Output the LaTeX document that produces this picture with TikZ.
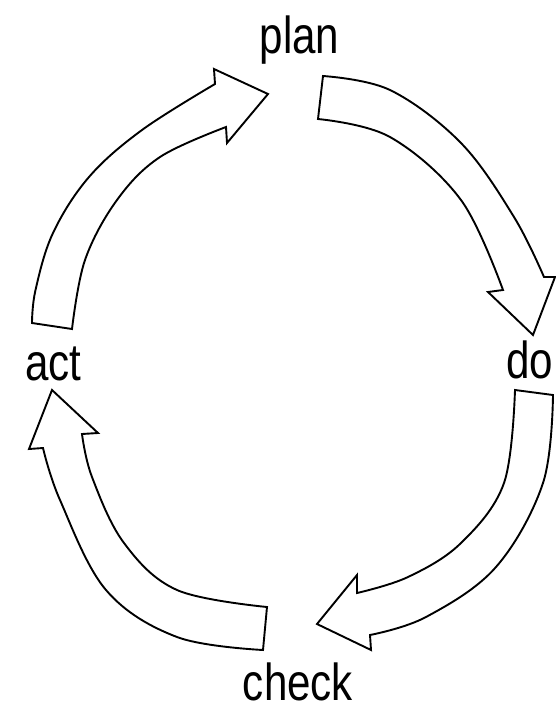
\documentclass[tikz,border=0pt]{standalone}
\usepackage{fontspec}
\usepackage{graphicx}
\setmainfont{Liberation Sans}
\newcommand{\lbl}[1]{\scalebox{0.81}[1]{\fontsize{52}{52}\selectfont #1}}
\begin{document}
\begin{tikzpicture}[x=1pt,y=-1pt,
  arrowshape/.style={draw=black,line width=1.9pt,line join=miter,fill=white},
  label/.style={inner sep=0pt,anchor=base}]
\useasboundingbox (0,0) rectangle (556,710);
% labels
\node[label] (plan) at (299.5,53) {\lbl{plan}};
\node[label] (do) at (529.5,378) {\lbl{do}};
\node[label] (act) at (53.5,380) {\lbl{act}};
\node[label] (check) at (298,700) {\lbl{check}};
% act -> plan
\draw[arrowshape] (72,329) -- plot[smooth,tension=0.6] coordinates {(72,329) (85,260) (117,200) (160,157) (226,127)}
  -- (227,143) -- (268,94) -- (214,69) -- (215,84)
  -- plot[smooth,tension=0.6] coordinates {(215,84) (142,130) (89,177) (53,233) (35.5,290) (32,323)} -- cycle;
% plan -> do
\draw[arrowshape] (318,119) -- (323,76) -- plot[smooth,tension=0.6] coordinates {(323,76) (390,90) (461,143) (514,217) (544,277)}
  -- (555,277) -- (533,335) -- (488,292) -- (503,290)
  -- plot[smooth,tension=0.6] coordinates {(503,290) (461,200) (390,137) (318,119)} -- cycle;
% do -> check
\draw[arrowshape] (515,390) -- (553,395) -- plot[smooth,tension=0.6] coordinates {(553,395) (543,483) (496,567) (426,617) (370,635)}
  -- (371,650) -- (317,624) -- (357,575) -- (357,593)
  -- plot[smooth,tension=0.6] coordinates {(357,593) (408,577) (461,543) (504,483) (515,390)} -- cycle;
% check -> act
\draw[arrowshape] (267,607) -- (263,650) -- plot[smooth,tension=0.6] coordinates {(263,650) (177,637) (106,590) (60,500) (43,448)}
  -- (29,449) -- (52,390) -- (98,433) -- (82,434)
  -- plot[smooth,tension=0.6] coordinates {(82,434) (92,477) (124,543) (177,590) (267,607)} -- cycle;
\end{tikzpicture}
\end{document}
